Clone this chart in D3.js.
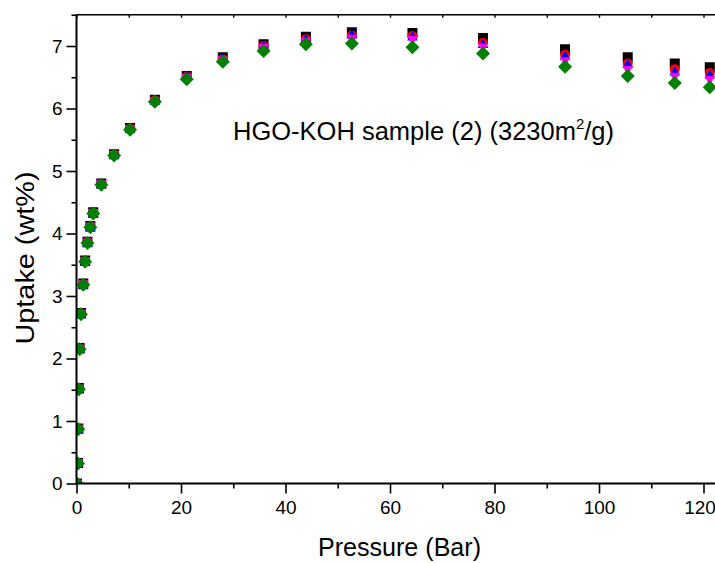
<!DOCTYPE html>
<html>
<head>
<meta charset="utf-8">
<script src="https://cdn.jsdelivr.net/npm/d3@7"></script>
<style>
  html, body { margin: 0; padding: 0; background: #fff; }
  svg { display: block; font-family: "Liberation Sans", Arial, sans-serif; }
</style>
</head>
<body>
<svg id="chart" width="715" height="563"></svg>
<script>
// ---- data ----
const pressure = [0.1, 0.3, 0.35, 0.45, 0.6, 0.85, 1.3, 1.65, 2.1, 2.65, 3.2, 4.75, 7.2, 10.25, 15.0, 21.1, 28.0, 35.8, 43.9, 52.7, 64.3, 77.8, 93.5, 105.5, 114.5, 121.2];
const uptakeBlack   = [0.0, 0.33, 0.88, 1.53, 2.17, 2.73, 3.20, 3.57, 3.87, 4.12, 4.34, 4.80, 5.27, 5.69, 6.14, 6.52, 6.82, 7.03, 7.15, 7.22, 7.21, 7.13, 6.95, 6.82, 6.72, 6.66];
const uptakeRed     = [0.0, 0.32, 0.87, 1.52, 2.16, 2.72, 3.19, 3.56, 3.86, 4.11, 4.33, 4.79, 5.26, 5.68, 6.13, 6.51, 6.79, 7.00, 7.11, 7.17, 7.16, 7.05, 6.86, 6.72, 6.63, 6.57];
const uptakeBlue    = [0.0, 0.31, 0.86, 1.50, 2.14, 2.70, 3.17, 3.54, 3.84, 4.09, 4.31, 4.78, 5.26, 5.68, 6.13, 6.52, 6.80, 7.00, 7.11, 7.18, 7.15, 7.03, 6.84, 6.71, 6.59, 6.54];
const uptakeMagenta = [0.0, 0.33, 0.88, 1.52, 2.16, 2.72, 3.19, 3.56, 3.86, 4.11, 4.33, 4.79, 5.26, 5.67, 6.12, 6.49, 6.77, 6.97, 7.07, 7.12, 7.10, 6.98, 6.76, 6.62, 6.51, 6.46];
const uptakeGreen   = [0.0, 0.32, 0.87, 1.51, 2.15, 2.71, 3.18, 3.55, 3.85, 4.10, 4.32, 4.78, 5.25, 5.66, 6.11, 6.47, 6.75, 6.92, 7.03, 7.04, 6.98, 6.88, 6.67, 6.52, 6.41, 6.34];

const seriesNames  = ["black", "red", "blue", "magenta", "green"];
const seriesColors = ["#000000", "#ff0000", "#0000ff", "#ff00ff", "#008000"];
const seriesShapes = ["square", "circle", "triangleUp", "triangleDown", "diamond"];
const seriesValues = [uptakeBlack, uptakeRed, uptakeBlue, uptakeMagenta, uptakeGreen];

const xTicks = [0, 20, 40, 60, 80, 100, 120];
const xMinorTicks = [10, 30, 50, 70, 90, 110];
const yTicks = [0, 1, 2, 3, 4, 5, 6, 7];
const yMinorTicks = [0.5, 1.5, 2.5, 3.5, 4.5, 5.5, 6.5, 7.5];

const xTitle = "Pressure (Bar)";
const yTitle = "Uptake (wt%)";

// ---- layout ----
const svg = d3.select("#chart");
const x0 = 76.5, yBottom = 483.5, yTop = 14.75;
const x = d3.scaleLinear().domain([0, 125]).range([x0, x0 + 125 * 5.225]);
const y = d3.scaleLinear().domain([0, 7.5]).range([yBottom, yTop]);

svg.append("defs").append("clipPath").attr("id", "plotclip")
  .append("rect").attr("x", x0).attr("y", yTop - 10).attr("width", 800).attr("height", yBottom - yTop + 10);

// symbols
function shapePath(shape) {
  const r = 5;
  switch (shape) {
    case "square": return `M${-r},${-r}H${r}V${r}H${-r}Z`;
    case "circle": return `M${-r},0A${r},${r} 0 1,0 ${r},0A${r},${r} 0 1,0 ${-r},0Z`;
    case "triangleUp": return `M0,${-5.5}L${5.3},${3.8}L${-5.3},${3.8}Z`;
    case "triangleDown": return `M0,${5.5}L${5.3},${-3.8}L${-5.3},${-3.8}Z`;
    case "diamond": return `M0,-7L7,0L0,7L-7,0Z`;
  }
}

const plot = svg.append("g").attr("clip-path", "url(#plotclip)");
seriesValues.forEach((vals, i) => {
  plot.append("g").attr("class", "series-" + seriesNames[i])
    .selectAll("path").data(pressure.map((p, j) => ({p, u: vals[j]})))
    .join("path")
    .attr("transform", d => `translate(${x(d.p)},${y(d.u)})`)
    .attr("d", shapePath(seriesShapes[i]))
    .attr("fill", seriesColors[i]);
});

// axes
const axisColor = "#000";
const fontTick = 19;

// bottom axis
const xAxis = d3.axisBottom(x).tickValues(xTicks).tickSize(10).tickPadding(7).tickFormat(d3.format("d"));
const gx = svg.append("g").attr("transform", `translate(0,${yBottom})`).call(xAxis);
gx.select(".domain").remove();
gx.selectAll(".tick line").attr("stroke", axisColor).attr("stroke-width", 1.6);
gx.selectAll(".tick text").attr("font-size", fontTick).attr("fill", "#000").attr("font-family", "Liberation Sans, Arial, sans-serif")
  .attr("dx", d => d === 120 ? -4 : 0);
const xAxisMinor = d3.axisBottom(x).tickValues(xMinorTicks).tickSize(5).tickFormat("");
const gxm = svg.append("g").attr("transform", `translate(0,${yBottom})`).call(xAxisMinor);
gxm.select(".domain").remove();
gxm.selectAll(".tick line").attr("stroke", axisColor).attr("stroke-width", 1.6);

// top frame ticks (inward)
const xTop = d3.axisBottom(x).tickValues(xTicks.concat(xMinorTicks)).tickSize(3).tickFormat("");
const gxt = svg.append("g").attr("transform", `translate(0,${yTop})`).call(xTop);
gxt.select(".domain").remove();
gxt.selectAll(".tick line").attr("stroke", axisColor).attr("stroke-width", 1.4);

// left axis
const yAxis = d3.axisLeft(y).tickValues(yTicks).tickSize(10).tickPadding(4).tickFormat(d3.format("d"));
const gy = svg.append("g").attr("transform", `translate(${x0},0)`).call(yAxis);
gy.select(".domain").remove();
gy.selectAll(".tick line").attr("stroke", axisColor).attr("stroke-width", 1.6);
gy.selectAll(".tick text").attr("font-size", fontTick).attr("fill", "#000").attr("font-family", "Liberation Sans, Arial, sans-serif");
const yAxisMinor = d3.axisLeft(y).tickValues(yMinorTicks).tickSize(5).tickFormat("");
const gym = svg.append("g").attr("transform", `translate(${x0},0)`).call(yAxisMinor);
gym.select(".domain").remove();
gym.selectAll(".tick line").attr("stroke", axisColor).attr("stroke-width", 1.6);

// frame lines
svg.append("line").attr("x1", x0).attr("x2", 720).attr("y1", yBottom).attr("y2", yBottom)
  .attr("stroke", axisColor).attr("stroke-width", 2);
svg.append("line").attr("x1", x0).attr("x2", 720).attr("y1", yTop).attr("y2", yTop)
  .attr("stroke", axisColor).attr("stroke-width", 1.6);
svg.append("line").attr("x1", x0).attr("x2", x0).attr("y1", yTop).attr("y2", yBottom + 1)
  .attr("stroke", axisColor).attr("stroke-width", 2);

// titles
svg.append("text").attr("x", 399.5).attr("y", 556).attr("text-anchor", "middle")
  .attr("font-size", 25).attr("textLength", 163).attr("lengthAdjust", "spacingAndGlyphs")
  .attr("fill", "#000").text(xTitle);
svg.append("text").attr("transform", "translate(34,258) rotate(-90)").attr("text-anchor", "middle")
  .attr("font-size", 25).attr("textLength", 173).attr("lengthAdjust", "spacingAndGlyphs")
  .attr("fill", "#000").text(yTitle);

// annotation
const ann = svg.append("text").attr("x", 233).attr("y", 140).attr("font-size", 25.5).attr("fill", "#000");
ann.append("tspan").text("HGO-KOH sample (2) (3230m");
ann.append("tspan").attr("font-size", 15).attr("dy", -11).text("2");
ann.append("tspan").attr("dy", 11).text("/g)");
</script>
</body>
</html>
